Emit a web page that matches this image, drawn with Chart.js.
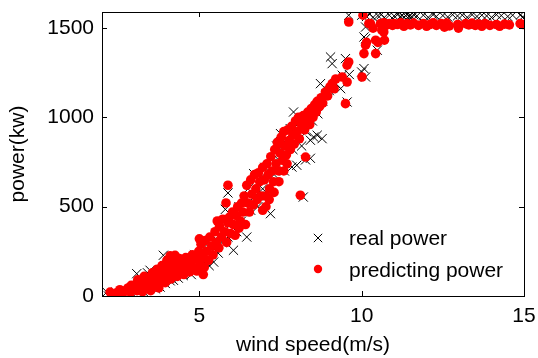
<!DOCTYPE html>
<html>
<head>
<meta charset="utf-8">
<script src="https://cdn.jsdelivr.net/npm/chart.js@4.4.1/dist/chart.umd.min.js"></script>
<style>
html,body{margin:0;padding:0;background:#fff;}
#wrap{width:538px;height:358px;}
</style>
</head>
<body>
<div id="wrap"><canvas id="c" width="538" height="358"></canvas></div>
<script>
const xTicks = [5, 10, 15];
const yTicks = [0, 500, 1000, 1500];
const seriesNames = ['real power', 'predicting power'];
const xTitle = 'wind speed(m/s)';
const yTitle = 'power(kw)';

// predicted power [wind speed, power]
const predicted = [
[2.25,22],[2.45,18],[2.55,35],[2.62,12],[2.7,28],[2.8,45],[2.88,20],[2.9,60],[2.95,38],[3.0,60],[3.08,30],
[3.1,90],[3.15,50],[3.2,75],[3.25,25],[3.28,45],[3.3,110],[3.35,90],[3.4,62],[3.48,100],[3.5,30],[3.52,55],
[3.55,130],[3.6,80],[3.65,115],[3.7,150],[3.72,70],[3.75,45],[3.78,130],[3.85,95],[3.85,170],[3.9,140],[3.95,75],
[4.0,200],[4.02,120],[4.08,160],[4.1,225],[4.12,95],[4.18,205],[4.2,140],[4.25,228],
[4.28,180],[4.32,110],[4.38,210],[4.4,150],[4.48,190],[4.52,120],[4.58,215],[4.62,165],[4.7,135],[4.72,200],
[4.78,230],[4.82,160],[4.88,210],[4.92,140],[4.98,250],[5.0,320],[5.02,180],[5.05,290],[5.1,220],[5.12,120],[5.15,160],[5.18,310],
[5.22,250],[5.28,200],[5.32,330],[5.38,280],[5.42,230],[5.48,360],[5.52,300],[5.55,420],[5.6,270],[5.62,390],
[5.68,330],[5.72,430],[5.78,360],[5.82,521],[5.84,300],[5.88,620],[5.88,410],[5.92,440],[5.96,350],[6.02,470],
[6.05,400],[6.1,340],[6.14,450],[6.18,500],[6.22,380],[6.26,420],[6.3,520],[6.34,470],[6.38,560],[6.42,400],
[6.46,620],[6.5,520],[6.54,470],[6.58,650],[6.62,570],[6.66,510],[6.7,680],[6.74,600],[6.78,540],[6.82,690],
[6.86,640],[6.9,560],[6.95,720],[6.95,480],[7.0,650],[7.04,560],[7.05,500],[7.08,740],[7.12,680],[7.15,540],[7.16,600],[7.2,780],[7.24,700],
[7.28,640],[7.3,580],[7.32,820],[7.36,740],[7.4,860],[7.44,700],[7.45,640],[7.48,800],[7.49,853],[7.52,890],[7.56,760],[7.6,920],[7.6,700],
[7.64,840],[7.68,790],[7.7,740],[7.72,930],[7.76,870],[7.8,820],[7.84,950],[7.88,900],[7.92,850],[7.96,980],[8.0,920],
[8.05,1000],[8.08,880],[8.11,564],[8.14,960],[8.2,1010],[8.24,930],[8.27,778],[8.3,984],[8.34,1030],[8.4,960],
[8.45,1050],[8.5,1000],[8.55,1070],[8.6,1030],[8.63,1090],[8.7,1060],[8.75,1110],[8.8,1080],[8.88,1142],[8.95,1120],
[9.02,1170],[9.09,1189],[9.15,1160],[9.2,1215],[9.4,1226],[9.5,1077],[9.55,1198],[9.55,1292],[9.6,1310],[9.6,1534],
[10.04,1572],[10.01,1226],[10.07,1357],[10.12,1404],[10.15,1420],[10.22,1525],[10.27,1525],[10.35,1500],[10.43,1432],[10.43,1357],
[10.5,1420],[10.58,1525],[10.62,1488],[10.68,1478],[10.68,1530],[10.7,1432],[10.75,1515],
[10.85,1525],[10.95,1515],[11.0,1525],[11.1,1520],[11.2,1530],[11.3,1510],[11.4,1525],[11.5,1518],[11.6,1528],[11.75,1515],
[11.9,1525],[12.0,1510],[12.1,1520],[12.2,1530],[12.3,1515],[12.45,1525],[12.55,1505],[12.62,1528],[12.7,1512],[12.96,1520],
[12.98,1500],[13.2,1525],[13.3,1518],[13.4,1528],[13.5,1515],[13.6,1522],[13.7,1510],[13.8,1525],[13.95,1515],[14.15,1520],
[14.25,1510],[14.4,1522],[14.55,1518],[14.88,1525],[14.98,1520]
];

// real power [wind speed, power]
const real = [
[2.15,22],[2.2,0],[2.3,8],[2.45,3],[2.6,20],[2.72,5],[2.85,30],[2.95,10],[3.0,50],[3.07,125],
[3.12,35],[3.25,60],[3.3,20],[3.4,130],[3.45,45],[3.48,144],[3.55,90],[3.65,40],[3.7,100],[3.79,50],
[3.85,120],[3.89,228],[3.95,70],[4.05,150],[4.1,85],[4.2,88],[4.25,170],[4.35,100],[4.45,200],[4.5,115],
[4.6,140],[4.68,190],[4.75,120],[4.85,230],[4.95,150],[5.02,144],[5.08,260],[5.15,190],[5.25,300],[5.3,170],
[5.38,260],[5.44,190],[5.5,320],[5.58,240],[5.65,380],[5.7,300],[5.75,420],[5.88,577],[5.8,485],[5.88,330],
[5.95,400],[6.05,256],[6.05,460],[6.15,360],[6.22,500],[6.3,420],[6.38,540],[6.46,330],[6.5,600],[6.58,480],
[6.67,685],[6.72,560],[6.8,500],[6.88,660],[6.95,600],[7.02,720],[7.1,560],[7.19,461],[7.22,760],[7.3,680],
[7.38,840],[7.45,760],[7.5,909],[7.55,820],[7.62,700],[7.7,880],[7.8,937],[7.85,722],[7.88,820],[7.9,1030],
[7.95,900],[8.0,732],[8.02,960],[8.2,554],[8.15,840],[8.2,990],[8.27,762],[8.3,920],[8.38,1020],[8.42,771],[8.42,872],
[8.48,980],[8.52,890],[8.58,1060],[8.63,900],[8.65,1020],[8.73,1189],[8.78,881],[8.8,1090],[8.9,1130],[9.0,1150],[9.04,1338],
[9.09,1301],[9.2,1190],[9.35,1161],[9.4,1236],[9.5,1329],[9.55,1086],[9.6,1572],[9.62,1240],[10.0,1254],[10.07,1273],
[10.12,1226],[10.07,1450],[10.12,1441],[10.12,1506],[10.48,1376],
[10.0,1572],[10.15,1565],[10.25,1578],[10.35,1560],[10.5,1570],[10.6,1575],[10.7,1560],[10.85,1572],[11.0,1568],[11.1,1575],
[11.2,1565],[11.25,1572],[11.3,1560],[11.35,1570],[11.4,1578],[11.45,1565],[11.5,1572],[11.55,1560],[11.6,1575],[11.7,1568],
[11.9,1572],[12.05,1560],[12.2,1575],[12.3,1565],[12.5,1570],[12.65,1562],[12.8,1575],[12.95,1568],[13.1,1572],[13.25,1560],
[13.4,1575],[13.55,1565],[13.7,1572],[13.85,1568],[14.0,1560],[14.15,1575],[14.3,1570],[14.5,1565],[14.65,1572],[14.9,1575],
[14.95,1560]
];

const FONT = "'Liberation Sans', Arial, sans-serif";
const toXY = arr => arr.map(p => ({x: p[0], y: p[1]}));
const noPad = s => { s.paddingLeft = 0; s.paddingRight = 0; s.paddingTop = 0; s.paddingBottom = 0; };

const framePlugin = {
  id: 'frame',
  afterDraw(chart) {
    const {ctx, chartArea: a, scales} = chart;
    ctx.save();
    ctx.strokeStyle = '#000';
    ctx.lineWidth = 1;
    ctx.strokeRect(Math.round(a.left) + 0.5, Math.round(a.top) + 0.5, Math.round(a.right - a.left), Math.round(a.bottom - a.top));
    const tl = 5;
    ctx.beginPath();
    xTicks.forEach(v => {
      const px = Math.round(scales.x.getPixelForValue(v)) + 0.5;
      ctx.moveTo(px, a.bottom); ctx.lineTo(px, a.bottom - tl);
      ctx.moveTo(px, a.top); ctx.lineTo(px, a.top + tl);
    });
    yTicks.forEach(v => {
      const py = Math.round(scales.y.getPixelForValue(v)) + 0.5;
      ctx.moveTo(a.left, py); ctx.lineTo(a.left + tl, py);
      ctx.moveTo(a.right, py); ctx.lineTo(a.right - tl, py);
    });
    ctx.stroke();
    // legend
    ctx.font = '21px ' + FONT;
    ctx.fillStyle = '#000';
    ctx.textBaseline = 'alphabetic';
    ctx.textAlign = 'left';
    const mx = 318, y1 = 238, y2 = 269;
    const r = 4.2;
    ctx.beginPath();
    ctx.moveTo(mx - r, y1 - r); ctx.lineTo(mx + r, y1 + r);
    ctx.moveTo(mx - r, y1 + r); ctx.lineTo(mx + r, y1 - r);
    ctx.stroke();
    ctx.fillText(seriesNames[0], 349, 245);
    ctx.beginPath();
    ctx.fillStyle = '#ff0000';
    ctx.arc(mx, y2, 4.2, 0, Math.PI * 2);
    ctx.fill();
    ctx.fillStyle = '#000';
    ctx.fillText(seriesNames[1], 349, 277);
    ctx.restore();
  }
};

new Chart(document.getElementById('c'), {
  type: 'scatter',
  data: {
    datasets: [
      {label: seriesNames[0], data: toXY(real), pointStyle: 'crossRot', pointRadius: 6.5, borderColor: '#000', backgroundColor: '#000', borderWidth: 1, order: 1},
      {label: seriesNames[1], data: toXY(predicted), pointStyle: 'circle', pointRadius: 4.8, backgroundColor: '#ff0000', borderColor: '#ff0000', borderWidth: 0, order: 0}
    ]
  },
  options: {
    responsive: false,
    animation: false,
    events: [],
    layout: {padding: {top: 12, right: 14, left: 0, bottom: 0}},
    plugins: {legend: {display: false}, tooltip: {enabled: false}},
    scales: {
      x: {
        type: 'linear', min: 2, max: 15,
        afterBuildTicks: s => { s.ticks = xTicks.map(v => ({value: v})); },
        afterFit: s => { s.height = 62; noPad(s); },
        grid: {display: false, drawTicks: false},
        border: {display: false},
        ticks: {padding: 8, color: '#000', maxRotation: 0, font: {size: 21, family: FONT}, callback: v => String(v)},
        title: {display: true, text: xTitle, color: '#000', font: {size: 21, family: FONT}, padding: {top: 0, bottom: 0}}
      },
      y: {
        type: 'linear', min: 0, max: 1590,
        afterBuildTicks: s => { s.ticks = yTicks.map(v => ({value: v})); },
        afterFit: s => { s.width = 102; noPad(s); },
        grid: {display: false, drawTicks: false},
        border: {display: false},
        ticks: {padding: 8, color: '#000', font: {size: 21, family: FONT}, callback: v => String(v)},
        title: {display: true, text: yTitle, color: '#000', font: {size: 21, family: FONT}, padding: {top: 6, bottom: 0}}
      }
    }
  },
  plugins: [framePlugin]
});
</script>
</body>
</html>
